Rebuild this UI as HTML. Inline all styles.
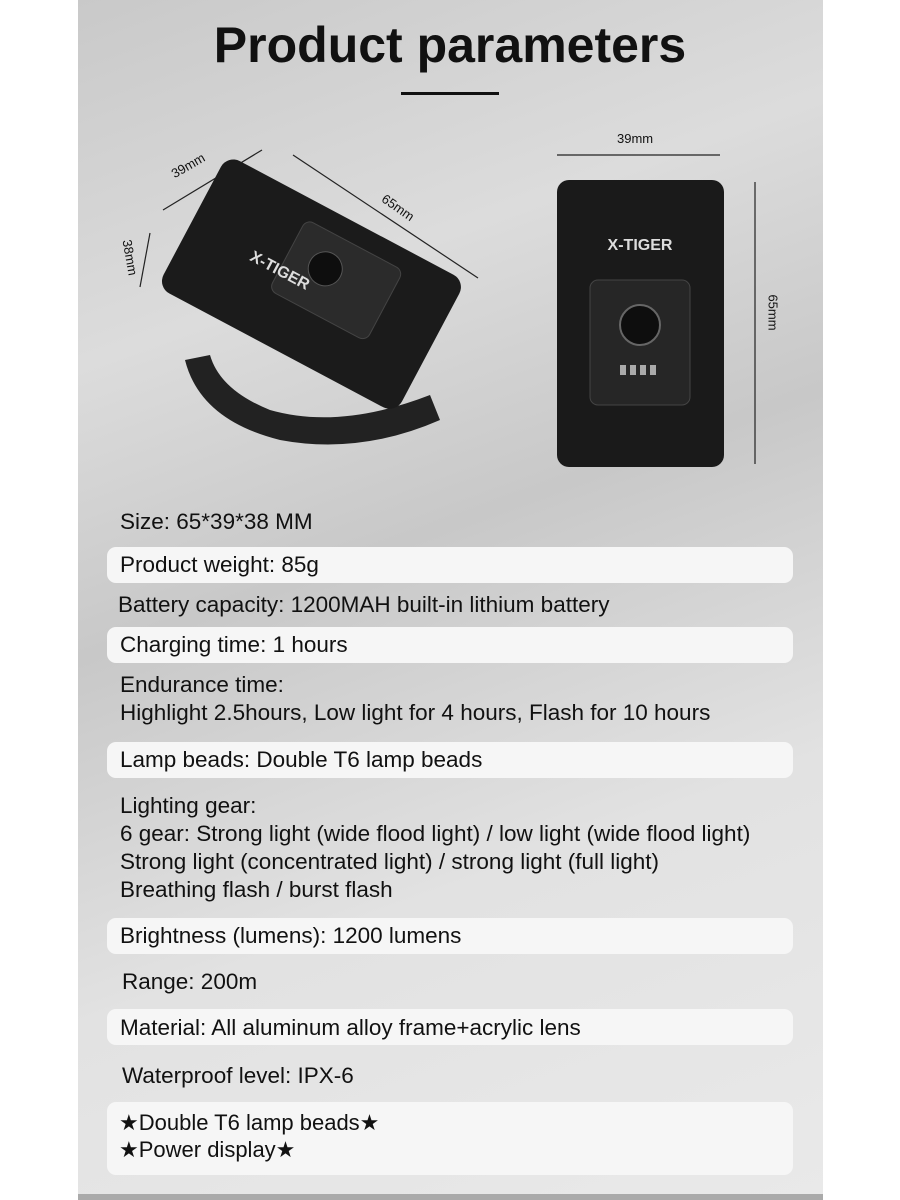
<!DOCTYPE html>
<html><head><style>
body{margin:0;width:900px;height:1200px;background:#fff;font-family:"Liberation Sans",sans-serif;position:relative;overflow:hidden}
#panel{position:absolute;left:78px;top:0;width:745px;height:1196px;background:linear-gradient(160deg,#c9c9c9 0%,#dcdcdc 25%,#c8c8c8 45%,#e2e2e2 70%,#e9e9e9 100%)}
#foot{position:absolute;left:78px;top:1194px;width:745px;height:6px;background:#aaa}
.t{position:absolute;left:120px;font-size:22.5px;color:#111;line-height:28px;white-space:nowrap}
.bar{position:absolute;left:107px;width:686px;background:#f6f6f6;border-radius:9px}
h1{position:absolute;left:0;width:900px;text-align:center;top:16px;margin:0;font-size:50px;font-weight:900;color:#111}
.ln{position:absolute;left:401px;top:92px;width:98px;height:3px;background:#111}
.lab{position:absolute;font-size:13px;color:#111}
</style></head><body>
<div id="panel"></div><div id="foot"></div>
<h1>Product parameters</h1><div class="ln"></div>
<svg style="position:absolute;left:0;top:0" width="900" height="500">
<g stroke="#222" stroke-width="1.2" fill="none">
<line x1="163" y1="210" x2="262" y2="150"/><line x1="293" y1="155" x2="478" y2="278"/><line x1="150" y1="233" x2="140" y2="287"/>
<line x1="557" y1="155" x2="720" y2="155"/><line x1="755" y1="182" x2="755" y2="464"/>
</g>
<path d="M185 360 Q200 420 280 440 Q360 455 440 420 L430 395 Q340 430 270 410 Q220 390 210 355Z" fill="#222"/>
<g transform="rotate(28 320 300)">
<rect x="170" y="215" width="270" height="150" rx="14" fill="#1b1b1b"/>
<rect x="270" y="235" width="110" height="80" rx="8" fill="#2b2b2b" stroke="#444"/>
<circle cx="310" cy="270" r="17" fill="#0e0e0e" stroke="#555"/>
</g>
<text x="250" y="265" fill="#ddd" font-size="16" font-weight="bold" transform="rotate(28 260 260)">X-TIGER</text>
<rect x="557" y="180" width="167" height="287" rx="12" fill="#1a1a1a"/>
<rect x="590" y="280" width="100" height="125" rx="8" fill="#262626" stroke="#444"/>
<circle cx="640" cy="325" r="20" fill="#0e0e0e" stroke="#666" stroke-width="2"/>
<text x="640" y="250" fill="#ddd" font-size="16" font-weight="bold" text-anchor="middle">X-TIGER</text>
<g fill="#aaa"><rect x="620" y="365" width="6" height="10"/><rect x="630" y="365" width="6" height="10"/><rect x="640" y="365" width="6" height="10"/><rect x="650" y="365" width="6" height="10"/></g>
</svg>
<div class="lab" style="left:170px;top:158px;transform:rotate(-30deg)">39mm</div>
<div class="lab" style="left:380px;top:200px;transform:rotate(35deg)">65mm</div>
<div class="lab" style="left:112px;top:250px;transform:rotate(80deg)">38mm</div>
<div class="lab" style="left:617px;top:131px">39mm</div>
<div class="lab" style="left:755px;top:305px;transform:rotate(90deg)">65mm</div>
<div class="bar" style="top:547px;height:36px"></div>
<div class="bar" style="top:627px;height:36px"></div>
<div class="bar" style="top:742px;height:36px"></div>
<div class="bar" style="top:918px;height:36px"></div>
<div class="bar" style="top:1009px;height:36px"></div>
<div class="bar" style="top:1102px;height:73px"></div>
<div class="t" style="top:508px">Size: 65*39*38 MM</div>
<div class="t" style="top:551px">Product weight: 85g</div>
<div class="t" style="top:591px;left:118px">Battery capacity: 1200MAH built-in lithium battery</div>
<div class="t" style="top:631px">Charging time: 1 hours</div>
<div class="t" style="top:671px">Endurance time:<br>Highlight 2.5hours, Low light for 4 hours, Flash for 10 hours</div>
<div class="t" style="top:746px">Lamp beads: Double T6 lamp beads</div>
<div class="t" style="top:792px">Lighting gear:<br>6 gear: Strong light (wide flood light) / low light (wide flood light)<br>Strong light (concentrated light) / strong light (full light)<br>Breathing flash / burst flash</div>
<div class="t" style="top:922px">Brightness (lumens): 1200 lumens</div>
<div class="t" style="top:968px;left:122px">Range: 200m</div>
<div class="t" style="top:1014px">Material: All aluminum alloy frame+acrylic lens</div>
<div class="t" style="top:1062px;left:122px">Waterproof level: IPX-6</div>
<div class="t" style="top:1109px;left:119px;line-height:27px;font-size:22px">★Double T6 lamp beads★<br>★Power display★</div>
</body></html>
